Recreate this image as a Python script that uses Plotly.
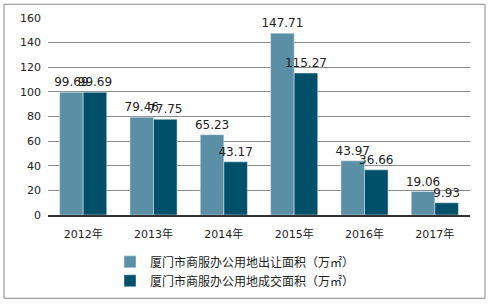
import plotly.graph_objects as go

years = ["2012年", "2013年", "2014年", "2015年", "2016年", "2017年"]
supply = [99.69, 79.46, 65.23, 147.71, 43.97, 19.06]
deal = [99.69, 77.75, 43.17, 115.27, 36.66, 9.93]
name1 = "厦门市商服办公用地出让面积（万㎡）"
name2 = "厦门市商服办公用地成交面积（万㎡）"

W, H = 489, 307
L, R, T, B = 48, 19, 16, 90
pw, ph = W - L - R, H - T - B

def px(x):
    return (x - L) / pw

def py(y):
    return (H - B - y) / ph

font = "Tahoma, 'DejaVu Sans', 'Noto Sans CJK SC', sans-serif"

fig = go.Figure()
fig.add_bar(x=years, y=supply, name=name1, marker_color="#5B8FA6",
            text=[f"{v:.2f}" for v in supply], textposition="outside",
            constraintext="none",
            textfont=dict(size=12, color="#222"), cliponaxis=False)
fig.add_bar(x=years, y=deal, name=name2, marker_color="#00506A",
            text=[f"{v:.2f}" for v in deal], textposition="outside",
            constraintext="none",
            textfont=dict(size=12, color="#222"), cliponaxis=False)

fig.update_layout(
    width=W, height=H,
    margin=dict(l=L, r=R, t=T, b=B),
    paper_bgcolor="white", plot_bgcolor="white",
    barmode="group", bargap=0.33, bargroupgap=0,
    font=dict(family=font, size=11, color="#222"),
    showlegend=True,
    legend=dict(x=px(110), y=py(250), xanchor="left", yanchor="top",
                font=dict(size=12, family="'Noto Sans CJK SC', sans-serif", color="#222"),
                bgcolor="rgba(0,0,0,0)", tracegroupgap=0, itemwidth=30),
    uniformtext=dict(mode=False),
)
fig.update_xaxes(showgrid=False, showline=True, linecolor="#333", linewidth=1.5,
                 ticks="", tickfont=dict(size=11), ticklabelstandoff=8)
fig.update_yaxes(range=[0, 160], dtick=20, showgrid=True, gridcolor="#8a8a8a",
                 gridwidth=1, zeroline=False, showline=False, ticks="",
                 tickfont=dict(size=11), ticklabelstandoff=6)

# outer border
fig.add_shape(type="rect", xref="paper", yref="paper",
              x0=px(4), x1=px(485), y0=py(302), y1=py(2),
              line=dict(color="#888", width=1), fillcolor="rgba(0,0,0,0)")

fig.write_html("out.html")
